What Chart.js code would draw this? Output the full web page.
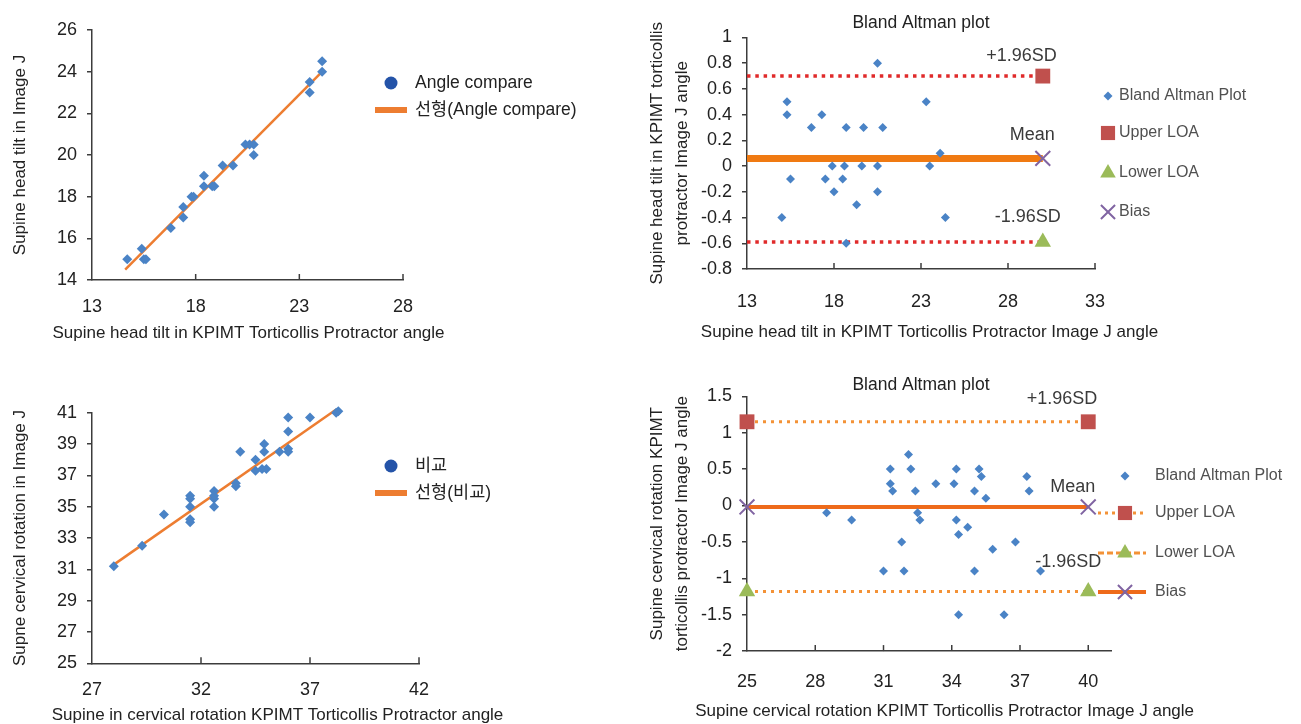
<!DOCTYPE html>
<html>
<head>
<meta charset="utf-8">
<script src="https://cdn.jsdelivr.net/npm/chart.js@4.4.1/dist/chart.umd.min.js"></script>
<style>
html, body { margin: 0; padding: 0; background: #fff; overflow: hidden; width: 1301px; height: 724px; }
canvas { position: absolute; }
#c1 { left: 0; top: 0; }
#c2 { left: 640px; top: 0; }
#c3 { left: 0; top: 362px; }
#c4 { left: 640px; top: 362px; }
</style>
</head>
<body>
<canvas id="c1" width="640" height="360"></canvas>
<canvas id="c2" width="661" height="360"></canvas>
<canvas id="c3" width="640" height="380"></canvas>
<canvas id="c4" width="661" height="380"></canvas>
<script>
// head tilt: protractor vs Image J
var tiltX = [14.7, 15.4, 15.5, 15.6, 16.8, 17.4, 17.4, 17.8, 17.9, 18.4, 18.4, 18.8, 18.9, 19.3, 19.8, 20.4, 20.6, 20.8, 20.8, 23.5, 23.5, 24.1, 24.1];
var tiltY = [15.0, 15.5, 15.0, 15.0, 16.5, 17.0, 17.5, 18.0, 18.0, 19.0, 18.5, 18.5, 18.5, 19.5, 19.5, 20.5, 20.5, 20.5, 20.0, 23.5, 23.0, 24.0, 24.5];
var tiltFitX = [14.6, 24.1];
var tiltFitY = [14.5, 24.0];
var tiltXTicks = [13, 18, 23, 28];
var tiltYTicks = [14, 16, 18, 20, 22, 24, 26];

// head tilt bland altman
var baTiltX = [20.5, 15.3, 15.3, 17.3, 16.7, 18.7, 19.7, 20.8, 23.3, 24.1, 23.5, 17.9, 18.6, 19.6, 20.5, 15.5, 17.5, 18.5, 18.0, 20.5, 19.3, 15.0, 24.4, 18.7];
var baTiltY = [0.8, 0.5, 0.4, 0.4, 0.3, 0.3, 0.3, 0.3, 0.5, 0.1, 0, 0, 0, 0, 0, -0.1, -0.1, -0.1, -0.2, -0.2, -0.3, -0.4, -0.4, -0.6];
var tiltLoaX = [13, 30];
var tiltUpper = [0.70, 0.70];
var tiltMean = [0.06, 0.06];
var tiltLower = [-0.59, -0.59];
var baTiltXTicks = [13, 18, 23, 28, 33];
var baTiltYTicks = [-0.8, -0.6, -0.4, -0.2, 0, 0.2, 0.4, 0.6, 0.8, 1];

// cervical rotation: protractor vs Image J
var rotX = [28.0, 29.3, 30.3, 31.5, 31.5, 31.5, 31.5, 31.5, 32.6, 32.6, 32.6, 32.6, 33.6, 33.6, 33.8, 34.5, 34.5, 34.8, 35.0, 34.9, 34.9, 35.6, 36.0, 36.0, 36.0, 36.0, 37.0, 38.2, 38.2, 38.3];
var rotY = [31.2, 32.5, 34.5, 35.5, 35.0, 34.2, 34.0, 35.7, 36.0, 35.5, 35.0, 35.7, 36.3, 36.5, 38.5, 38.0, 37.3, 37.4, 37.4, 39.0, 38.5, 38.5, 40.7, 39.8, 38.7, 38.5, 40.7, 42.3, 41.0, 41.1];
var rotFitX = [28.0, 38.2];
var rotFitY = [31.3, 41.2];
var rotXTicks = [27, 32, 37, 42];
var rotYTicks = [25, 27, 29, 31, 33, 35, 37, 39, 41];

// cervical rotation bland altman
var baRotX = [28.5, 29.6, 31.3, 31.3, 31.4, 31.0, 31.8, 31.9, 32.1, 32.2, 32.4, 32.5, 32.6, 33.3, 34.1, 34.2, 34.2, 34.3, 34.7, 34.3, 35.0, 35.0, 35.2, 35.3, 35.5, 35.8, 36.3, 36.8, 37.3, 37.4, 37.9];
var baRotY = [-0.1, -0.2, 0.5, 0.3, 0.2, -0.9, -0.5, -0.9, 0.7, 0.5, 0.2, -0.1, -0.2, 0.3, 0.3, 0.5, -0.2, -0.4, -0.3, -1.5, 0.2, -0.9, 0.5, 0.4, 0.1, -0.6, -1.5, -0.5, 0.4, 0.2, -0.9];
var rotLoaX = [25, 40];
var rotUpper = [1.15, 1.15];
var rotMean = [-0.02, -0.02];
var rotLower = [-1.18, -1.18];
var baRotXTicks = [25, 28, 31, 34, 37, 40];
var baRotYTicks = [-2, -1.5, -1, -0.5, 0, 0.5, 1, 1.5];

var FONT = "'Liberation Sans', 'Noto Sans CJK KR', sans-serif";
var AXIS = '#3c3c3c';
var BLUE = '#4a83c6';
var ORANGE = '#ed7d31';
var RED = '#c0504d';
var GREEN = '#9bbb59';
var PURPLE = '#8064a2';

Chart.defaults.font.family = FONT;
Chart.defaults.color = '#222';
Chart.defaults.animation = false;
Chart.defaults.events = [];
Chart.defaults.plugins.legend.display = false;
Chart.defaults.plugins.tooltip.enabled = false;

function pts(xs, ys) {
    return xs.map(function(x, i) { return { x: x, y: ys[i] }; });
}

function mark(ctx, m, x, y) {
    var r = m.r, a;
    ctx.save();
    ctx.fillStyle = m.color;
    ctx.strokeStyle = m.color;
    ctx.beginPath();
    if (m.style == 'circle') {
        ctx.arc(x, y, r, 0, Math.PI * 2);
        ctx.fill();
    } else if (m.style == 'rectRot') {
        ctx.moveTo(x, y - r); ctx.lineTo(x + r, y); ctx.lineTo(x, y + r); ctx.lineTo(x - r, y);
        ctx.closePath(); ctx.fill();
    } else if (m.style == 'rect') {
        a = r * Math.SQRT1_2;
        ctx.rect(x - a, y - a, 2 * a, 2 * a);
        ctx.fill();
    } else if (m.style == 'triangle') {
        for (var k = 0; k < 3; k++) {
            var ang = k * 2 * Math.PI / 3;
            ctx[k ? 'lineTo' : 'moveTo'](x + Math.sin(ang) * r, y - Math.cos(ang) * r);
        }
        ctx.closePath(); ctx.fill();
    } else if (m.style == 'crossRot') {
        a = r * Math.SQRT1_2;
        ctx.lineWidth = 2;
        ctx.moveTo(x - a, y - a); ctx.lineTo(x + a, y + a);
        ctx.moveTo(x - a, y + a); ctx.lineTo(x + a, y - a);
        ctx.stroke();
    }
    ctx.restore();
}

// titles, inward x ticks, notes and side legends
var decor = {
    id: 'decor',
    afterDraw: function(chart, args, o) {
        var ctx = chart.ctx, xs = chart.scales.x, ys = chart.scales.y, area = chart.chartArea;
        ctx.save();
        ctx.strokeStyle = AXIS;
        ctx.lineWidth = 1.5;
        xs.ticks.forEach(function(t, i) {
            if (i === 0) return;
            var px = xs.getPixelForValue(t.value);
            ctx.beginPath();
            ctx.moveTo(px, area.bottom);
            ctx.lineTo(px, area.bottom - 6);
            ctx.stroke();
        });
        ctx.textBaseline = 'middle';
        ctx.fillStyle = '#222';
        if (o.title) {
            ctx.font = '17.5px ' + FONT;
            ctx.textAlign = 'center';
            ctx.fillText(o.title.text, o.title.x, o.title.y);
        }
        if (o.xTitle) {
            ctx.font = '17px ' + FONT;
            ctx.textAlign = 'center';
            ctx.fillText(o.xTitle.text, o.xTitle.x, o.xTitle.y);
        }
        (o.notes || []).forEach(function(n) {
            ctx.font = '18px ' + FONT;
            ctx.textAlign = 'right';
            ctx.fillStyle = '#3a3a3a';
            ctx.fillText(n.text, xs.getPixelForValue(n.x) + n.dx, ys.getPixelForValue(n.y) + n.dy);
        });
        (o.legend || []).forEach(function(it) {
            if (it.line) {
                ctx.beginPath();
                ctx.strokeStyle = it.line.color;
                ctx.lineWidth = it.line.width;
                ctx.setLineDash(it.line.dash || []);
                ctx.moveTo(it.line.x1, it.y);
                ctx.lineTo(it.line.x2, it.y);
                ctx.stroke();
                ctx.setLineDash([]);
            }
            if (it.mark) mark(ctx, it.mark, it.mark.x, it.y);
            ctx.font = (it.size || 16) + 'px ' + FONT;
            ctx.textAlign = 'left';
            ctx.fillStyle = it.color || '#222';
            ctx.fillText(it.text, it.textX, it.y);
        });
        ctx.restore();
    }
};

function axisX(ticks, min, max, pad, height) {
    return {
        type: 'linear', position: 'bottom', min: min, max: max,
        afterBuildTicks: function(s) { s.ticks = ticks.map(function(v) { return { value: v }; }); },
        afterFit: function(s) { s.height = height; },
        ticks: { padding: pad, autoSkip: false, maxRotation: 0, font: { size: 18 }, color: '#222',
                 callback: function(v) { return String(v); } },
        grid: { display: false, drawTicks: false },
        border: { display: true, color: AXIS, width: 1.5 },
        title: { display: false }
    };
}

function axisY(ticks, min, max, width, title, lh, tpad) {
    return {
        type: 'linear', min: min, max: max,
        afterBuildTicks: function(s) { s.ticks = ticks.map(function(v) { return { value: v }; }); },
        afterFit: function(s) { s.width = width; },
        ticks: { padding: 10, autoSkip: false, font: { size: 18 }, color: '#222',
                 callback: function(v) { return String(v); } },
        grid: { display: true, drawOnChartArea: false, drawTicks: true, tickLength: 5, color: AXIS, lineWidth: 1.5 },
        border: { display: true, color: AXIS, width: 1.5 },
        title: { display: true, text: title, color: '#222', font: { size: 17, lineHeight: lh },
                 padding: { top: tpad, bottom: 0 } }
    };
}

function pointSet(data, r) {
    return { data: data, pointStyle: 'rectRot', pointRadius: r, backgroundColor: BLUE, borderColor: BLUE,
             borderWidth: 0, showLine: false, clip: false };
}

function limitSet(data, color, width, dash, style, mcolor, radii) {
    return { data: data, showLine: true, borderColor: color, borderWidth: width, borderDash: dash,
             pointStyle: style, pointRadius: radii, pointBackgroundColor: mcolor, pointBorderColor: mcolor,
             pointBorderWidth: style == 'crossRot' ? 2 : 0, clip: false };
}

// top left
new Chart(document.getElementById('c1'), {
    type: 'scatter',
    data: { datasets: [
        pointSet(pts(tiltX, tiltY), 5),
        { data: pts(tiltFitX, tiltFitY), showLine: true, borderColor: ORANGE, borderWidth: 2.5, pointRadius: 0, clip: false }
    ] },
    options: {
        responsive: false,
        layout: { padding: { left: 0, top: 30, right: 237, bottom: 0 } },
        scales: {
            x: axisX(tiltXTicks, 13, 28, 16, 80),
            y: axisY(tiltYTicks, 14, 26, 92, 'Supine head tilt in Image J', 1.2, 10)
        },
        plugins: { decor: {
            xTitle: { text: 'Supine head tilt in KPIMT Torticollis Protractor angle', x: 248.5, y: 333 },
            legend: [
                { text: 'Angle compare', y: 83, textX: 415, size: 17.5, mark: { style: 'circle', x: 391, r: 6.5, color: '#2453a8' } },
                { text: '선형(Angle compare)', y: 110, textX: 415, size: 17.5, line: { x1: 375, x2: 407, width: 6, color: ORANGE } }
            ]
        } }
    },
    plugins: [decor]
});

// top right
new Chart(document.getElementById('c2'), {
    type: 'scatter',
    data: { datasets: [
        pointSet(pts(baTiltX, baTiltY), 4.5),
        limitSet(pts(tiltLoaX, tiltUpper), '#e02a2a', 3.5, [3.5, 4.8], 'rect', RED, [0, 10.5]),
        limitSet(pts(tiltLoaX, tiltLower), '#e02a2a', 3.5, [3.5, 4.8], 'triangle', GREEN, [0, 9.5]),
        limitSet(pts(tiltLoaX, tiltMean), '#f07a12', 7, [], 'crossRot', PURPLE, [0, 10.5])
    ] },
    options: {
        responsive: false,
        layout: { padding: { left: 0, top: 37.5, right: 206, bottom: 0 } },
        scales: {
            x: axisX(baTiltXTicks, 13, 33, 22, 91),
            y: axisY(baTiltYTicks, -0.8, 1, 107, ['Supine head tilt in KPIMT torticollis', 'protractor Image J angle'], 1.47, 4.5)
        },
        plugins: { decor: {
            title: { text: 'Bland Altman plot', x: 281, y: 23 },
            xTitle: { text: 'Supine head tilt in KPIMT Torticollis Protractor Image J angle', x: 289.5, y: 332 },
            notes: [
                { text: '+1.96SD', x: tiltLoaX[1], y: tiltUpper[1], dx: 14, dy: -20 },
                { text: 'Mean', x: tiltLoaX[1], y: tiltMean[1], dx: 12, dy: -23 },
                { text: '-1.96SD', x: tiltLoaX[1], y: tiltLower[1], dx: 18, dy: -25 }
            ],
            legend: [
                { text: 'Bland Altman Plot', y: 96, textX: 479, color: '#505050', mark: { style: 'rectRot', x: 468, r: 4.5, color: BLUE } },
                { text: 'Upper LOA', y: 133, textX: 479, color: '#505050', mark: { style: 'rect', x: 468, r: 10, color: RED } },
                { text: 'Lower LOA', y: 173, textX: 479, color: '#505050', mark: { style: 'triangle', x: 468, r: 9, color: GREEN } },
                { text: 'Bias', y: 212, textX: 479, color: '#505050', mark: { style: 'crossRot', x: 468, r: 10, color: PURPLE } }
            ]
        } }
    },
    plugins: [decor]
});

// bottom left
new Chart(document.getElementById('c3'), {
    type: 'scatter',
    data: { datasets: [
        pointSet(pts(rotX, rotY), 5),
        { data: pts(rotFitX, rotFitY), showLine: true, borderColor: ORANGE, borderWidth: 2.5, pointRadius: 0, clip: false }
    ] },
    options: {
        responsive: false,
        layout: { padding: { left: 0, top: 50.7, right: 221, bottom: 0 } },
        scales: {
            x: axisX(rotXTicks, 27, 42, 16, 78.7),
            y: axisY(rotYTicks, 25, 41, 92, 'Supne cervical rotation in Image J', 1.2, 10)
        },
        plugins: { decor: {
            xTitle: { text: 'Supine in cervical rotation KPIMT Torticollis Protractor angle', x: 277.5, y: 353 },
            legend: [
                { text: '비교', y: 104, textX: 415, size: 17.5, mark: { style: 'circle', x: 391, r: 6.5, color: '#2453a8' } },
                { text: '선형(비교)', y: 131, textX: 415, size: 17.5, line: { x1: 375, x2: 407, width: 6, color: ORANGE } }
            ]
        } }
    },
    plugins: [decor]
});

// bottom right
new Chart(document.getElementById('c4'), {
    type: 'scatter',
    data: { datasets: [
        pointSet(pts(baRotX, baRotY), 4.5),
        limitSet(pts(rotLoaX, rotUpper), '#f39237', 3, [3, 5], 'rect', RED, 10.5),
        limitSet(pts(rotLoaX, rotLower), '#f39237', 3, [3, 5], 'triangle', GREEN, 9.5),
        limitSet(pts(rotLoaX, rotMean), '#ee6a1a', 4, [], 'crossRot', PURPLE, 10.5)
    ] },
    options: {
        responsive: false,
        layout: { padding: { left: 0, top: 34.3, right: 190, bottom: 0 } },
        scales: {
            x: axisX(baRotXTicks, 25, 41, 20, 90.9),
            y: axisY(baRotYTicks, -2, 1.5, 107, ['Supine cervical rotation KPIMT', 'torticollis protractor Image J angle'], 1.47, 4.5)
        },
        plugins: { decor: {
            title: { text: 'Bland Altman plot', x: 281, y: 23 },
            xTitle: { text: 'Supine cervical rotation KPIMT Torticollis Protractor Image J angle', x: 304.6, y: 349.7 },
            notes: [
                { text: '+1.96SD', x: rotLoaX[1], y: rotUpper[1], dx: 9, dy: -23 },
                { text: 'Mean', x: rotLoaX[1], y: rotMean[1], dx: 7, dy: -20 },
                { text: '-1.96SD', x: rotLoaX[1], y: rotLower[1], dx: 13, dy: -29 }
            ],
            legend: [
                { text: 'Bland Altman Plot', y: 114, textX: 515, color: '#505050', mark: { style: 'rectRot', x: 485, r: 4.5, color: BLUE } },
                { text: 'Upper LOA', y: 151, textX: 515, color: '#505050', line: { x1: 458, x2: 506, width: 3, dash: [3, 4], color: '#f39237' }, mark: { style: 'rect', x: 485, r: 10, color: RED } },
                { text: 'Lower LOA', y: 191, textX: 515, color: '#505050', line: { x1: 458, x2: 506, width: 3, dash: [6, 3], color: '#f39237' }, mark: { style: 'triangle', x: 485, r: 9, color: GREEN } },
                { text: 'Bias', y: 230, textX: 515, color: '#505050', line: { x1: 458, x2: 506, width: 4, color: '#ee6a1a' }, mark: { style: 'crossRot', x: 485, r: 10, color: PURPLE } }
            ]
        } }
    },
    plugins: [decor]
});
</script>
</body>
</html>
